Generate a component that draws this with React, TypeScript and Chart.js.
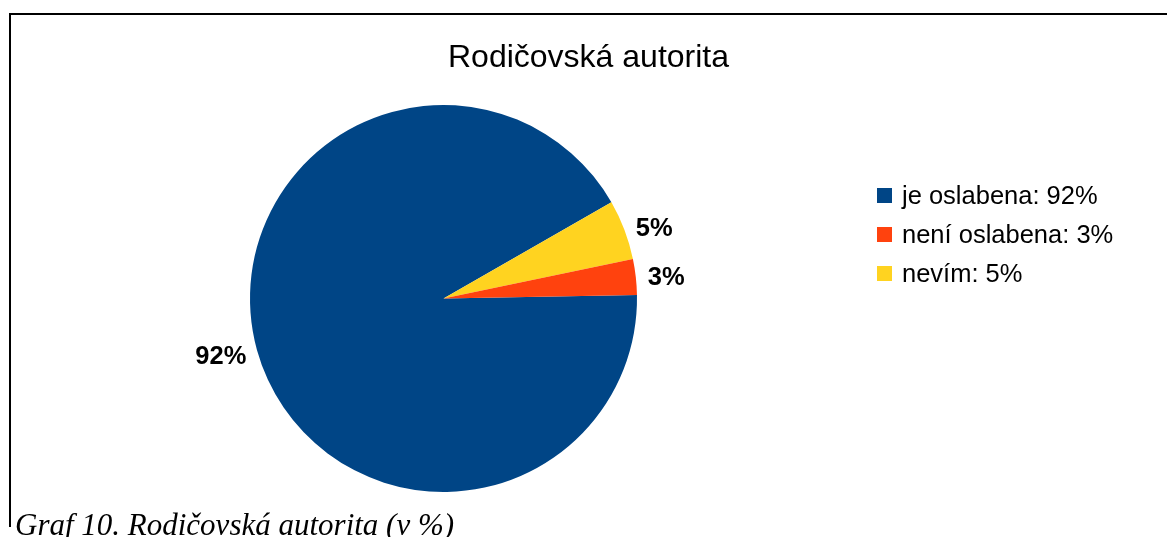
import React, { useEffect, useRef } from "react";
import { Chart, registerables } from "chart.js";

Chart.register(...registerables);

const titleText = "Rodičovská autorita";
const captionText = "Graf 10. Rodičovská autorita (v %)";
const categories = ["je oslabena", "není oslabena", "nevím"];
const values = [92, 3, 5];
const colors = ["#004586", "#ff420e", "#ffd320"];
// order in which the slices are laid out clockwise
const pieOrder = [0, 2, 1];

const labelPlugin = {
  id: "sliceLabels",
  afterDatasetsDraw(chart: any) {
    const ctx = chart.ctx;
    const meta = chart.getDatasetMeta(0);
    const data = chart.data.datasets[0].data;
    ctx.save();
    ctx.font = "bold 25.5px 'Liberation Sans', Arial, sans-serif";
    ctx.fillStyle = "#000";
    ctx.textBaseline = "middle";
    meta.data.forEach((arc: any, i: number) => {
      const p = arc.getProps(["x", "y", "startAngle", "endAngle", "outerRadius"], true);
      const mid = (p.startAngle + p.endAngle) / 2;
      const d = p.outerRadius + 10;
      const c = Math.cos(mid);
      const s = Math.sin(mid);
      const ax = p.x + c * d;
      const ay = p.y + s * d;
      const right = c >= 0;
      ctx.textAlign = right ? "left" : "right";
      ctx.fillText(`${data[i]}%`, ax + (right ? 2 : -1), ay + (right ? 2.5 : 4));
    });
    ctx.restore();
  },
};

export default function App() {
  const ref = useRef<HTMLCanvasElement | null>(null);

  useEffect(() => {
    if (!ref.current) return;
    const chart = new Chart(ref.current, {
      type: "pie",
      data: {
        labels: pieOrder.map((i) => categories[i]),
        datasets: [
          {
            data: pieOrder.map((i) => values[i]),
            backgroundColor: pieOrder.map((i) => colors[i]),
            borderWidth: 0,
            hoverOffset: 0,
            offset: 0,
          },
        ],
      },
      options: {
        animation: false,
        responsive: false,
        devicePixelRatio: 1,
        rotation: 89,
        layout: { padding: { left: 250, right: 530, top: 105, bottom: 45 } },
        plugins: {
          legend: { display: false },
          title: { display: false },
          tooltip: { enabled: false },
        },
        events: [],
      },
      plugins: [labelPlugin],
    });
    return () => chart.destroy();
  }, []);

  const sans = "'Liberation Sans', Arial, sans-serif";
  const legendTop = [205, 244, 283];

  return (
    <div
      style={{
        position: "fixed",
        left: 0,
        top: 0,
        width: 1167,
        height: 537,
        overflow: "hidden",
        background: "#fff",
      }}
    >
      <div style={{ position: "absolute", left: 9, top: 13, width: 1158, height: 1.5, background: "#000" }} />
      <div style={{ position: "absolute", left: 9, top: 13, width: 1.5, height: 514, background: "#000" }} />
      <canvas
        ref={ref}
        width={1167}
        height={537}
        style={{ position: "absolute", left: 0, top: 0, width: 1167, height: 537 }}
      />
      <div
        style={{
          position: "absolute",
          left: 588.5,
          top: 40,
          transform: "translateX(-50%)",
          whiteSpace: "nowrap",
          fontFamily: sans,
          fontSize: 32,
          lineHeight: "32px",
          color: "#000",
        }}
      >
        {titleText}
      </div>
      {categories.map((cat, i) => (
        <div key={cat}>
          <div
            style={{
              position: "absolute",
              left: 877,
              top: legendTop[i] - 17,
              width: 15,
              height: 15,
              background: colors[i],
            }}
          />
          <div
            style={{
              position: "absolute",
              left: 902,
              top: legendTop[i] - 21.6,
              whiteSpace: "nowrap",
              fontFamily: sans,
              fontSize: 25.5,
              lineHeight: "25.5px",
              color: "#000",
            }}
          >
            {`${cat}: ${values[i]}%`}
          </div>
        </div>
      ))}
      <div
        style={{
          position: "absolute",
          left: 15,
          top: 509,
          whiteSpace: "nowrap",
          fontFamily: "'Liberation Serif', 'Times New Roman', serif",
          fontStyle: "italic",
          fontSize: 31,
          lineHeight: "31px",
          color: "#000",
        }}
      >
        {captionText}
      </div>
    </div>
  );
}
